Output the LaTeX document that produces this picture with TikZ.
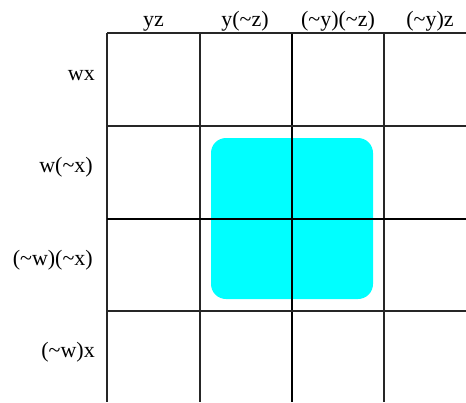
\documentclass[tikz,border=0pt]{standalone}
\usepackage{fontspec}
\setmainfont{Liberation Serif}
\definecolor{aquafill}{RGB}{0,255,255}
\begin{document}
\begin{tikzpicture}[x=1pt,y=-1pt,
  gridline/.style={line width=1.4pt,black!85},
  midline/.style={line width=2pt,black},
  collabel/.style={anchor=base,inner sep=0pt,font=\fontsize{22}{26}\selectfont},
  rowlabel/.style={anchor=base east,inner sep=0pt,font=\fontsize{22}{26}\selectfont}]
\useasboundingbox (0,0) rectangle (466,402);
% grouped region
\node (region) [fill=aquafill, draw=none, minimum width=162pt, minimum height=161pt, rounded corners=15pt, inner sep=0pt] at (292,218.5) {};
% grid
\foreach \x in {107,200,384} \draw[gridline] (\x,33) -- (\x,402);
\draw[midline] (292,33) -- (292,402);
\foreach \y in {33,126,311} \draw[gridline] (107,\y) -- (466,\y);
\draw[midline] (107,219) -- (466,219);
% column labels
\node[collabel] (c1) at (153.5,26) {yz};
\node[collabel] (c2) at (245,26) {y(\textasciitilde z)};
\node[collabel] (c3) at (338,26) {(\textasciitilde y)(\textasciitilde z)};
\node[collabel] (c4) at (430,26) {(\textasciitilde y)z};
% row labels
\node[rowlabel] (r1) at (95,80) {wx};
\node[rowlabel] (r2) at (93,172) {w(\textasciitilde x)};
\node[rowlabel] (r3) at (93,265) {(\textasciitilde w)(\textasciitilde x)};
\node[rowlabel] (r4) at (95,357) {(\textasciitilde w)x};
\end{tikzpicture}
\end{document}
